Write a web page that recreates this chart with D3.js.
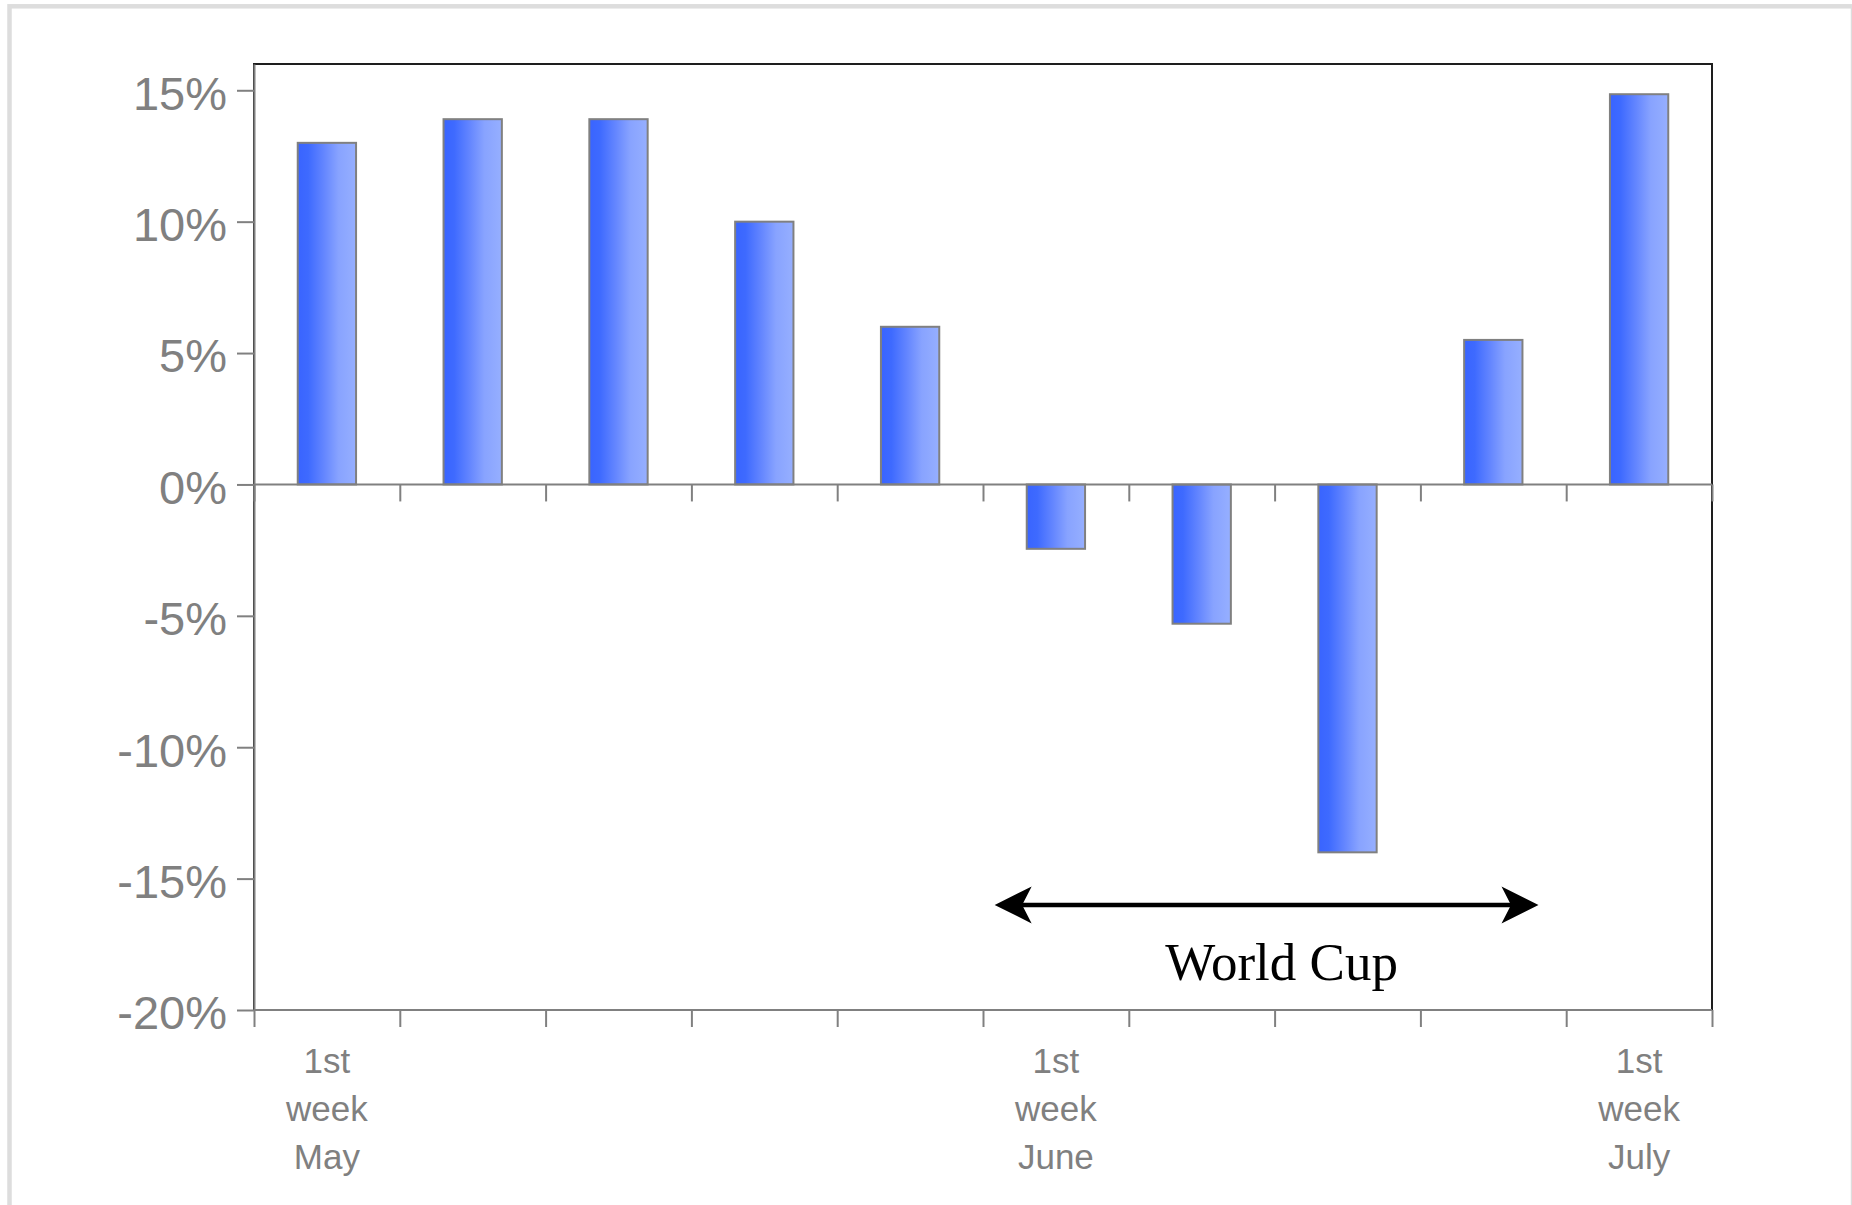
<!DOCTYPE html>
<html>
<head>
<meta charset="utf-8">
<script src="https://cdn.jsdelivr.net/npm/d3@7"></script>
<style>
  html, body { margin: 0; padding: 0; background: #ffffff; }
  svg { display: block; }
</style>
</head>
<body>
<script>
// ---------- data ----------
const weeks = ["1st week May", "2nd week May", "3rd week May", "4th week May", "5th week May",
               "1st week June", "2nd week June", "3rd week June", "4th week June", "1st week July"];
const values = [13.0, 13.9, 13.9, 10.0, 6.0, -2.45, -5.3, -14.0, 5.5, 14.85];
const tickLabels = [["1st", "week", "May"], null, null, null, null,
                    ["1st", "week", "June"], null, null, null, ["1st", "week", "July"]];
const yTicks = [-20, -15, -10, -5, 0, 5, 10, 15];
const yDomain = [-20, 16];
const annotationText = "World Cup";
const worldCupSpan = [5.08, 8.81];   // in week-step units
const arrowLevel = -16.0;            // %
const annotationLevel = -18.85;      // %

// ---------- layout ----------
const W = 1852, H = 1205;
const plot = { left: 254, right: 1712, top: 64, bottom: 1010 };

const svg = d3.select("body").append("svg").attr("width", W).attr("height", H);

svg.append("rect").attr("x", 0).attr("y", 0).attr("width", W).attr("height", H).attr("fill", "#fff");

// outer light frame
svg.append("rect")
  .attr("x", 9.5).attr("y", 6.3).attr("width", 1843.5).attr("height", 1230)
  .attr("fill", "none").attr("stroke", "#dddddd").attr("stroke-width", 4.5);

const x = d3.scaleBand().domain(weeks).range([plot.left, plot.right])
  .paddingInner(0.6).paddingOuter(0.3);
const xStep = d3.scaleLinear().domain([0, weeks.length]).range([plot.left, plot.right]);
const y = d3.scaleLinear().domain(yDomain).range([plot.bottom, plot.top]);

// gradient
const defs = svg.append("defs");
const grad = defs.append("linearGradient").attr("id", "barGrad")
  .attr("x1", "0%").attr("x2", "100%").attr("y1", "0%").attr("y2", "0%");
[[0, "#3964ff"], [0.18, "#3e6aff"], [0.45, "#6486ff"], [0.7, "#88a3ff"], [1, "#96afff"]]
  .forEach(([o, c]) => grad.append("stop").attr("offset", o).attr("stop-color", c));

// plot frame
svg.append("rect")
  .attr("x", plot.left).attr("y", plot.top)
  .attr("width", plot.right - plot.left).attr("height", plot.bottom - plot.top)
  .attr("fill", "none").attr("stroke", "#1e1e1e").attr("stroke-width", 2);

const gray = "#808080";

// bars
svg.append("g").selectAll("rect").data(values).join("rect")
  .attr("x", (d, i) => x(weeks[i]))
  .attr("width", x.bandwidth())
  .attr("y", d => y(Math.max(0, d)))
  .attr("height", d => Math.abs(y(d) - y(0)))
  .attr("fill", "url(#barGrad)")
  .attr("stroke", gray).attr("stroke-width", 2);

// y axis
const yAxis = svg.append("g").attr("transform", `translate(${plot.left},0)`)
  .call(d3.axisLeft(y).tickValues(yTicks).tickSizeInner(17).tickSizeOuter(0).tickPadding(10)
        .tickFormat(d => d + "%"));
yAxis.select(".domain").attr("stroke", gray).attr("stroke-width", 2);
yAxis.selectAll(".tick line").attr("stroke", gray).attr("stroke-width", 2);
yAxis.selectAll(".tick text")
  .attr("fill", gray).attr("font-family", "'Liberation Sans', Arial, sans-serif")
  .attr("font-size", 47).attr("dy", "0.4em");

// zero line axis with ticks
const zeroAxis = svg.append("g").attr("transform", `translate(0,${y(0)})`)
  .call(d3.axisBottom(xStep).ticks(weeks.length).tickSize(17).tickFormat(""));
zeroAxis.select(".domain").attr("stroke", gray).attr("stroke-width", 2).attr("d", `M${plot.left},0H${plot.right}`);
zeroAxis.selectAll(".tick line").attr("stroke", gray).attr("stroke-width", 2);

// bottom axis with ticks
const bottomAxis = svg.append("g").attr("transform", `translate(0,${plot.bottom})`)
  .call(d3.axisBottom(xStep).ticks(weeks.length).tickSize(17).tickFormat(""));
bottomAxis.select(".domain").attr("stroke", gray).attr("stroke-width", 2).attr("d", `M${plot.left},0H${plot.right}`);
bottomAxis.selectAll(".tick line").attr("stroke", gray).attr("stroke-width", 2);

// category labels
const lab = svg.append("g")
  .attr("font-family", "'Liberation Sans', Arial, sans-serif")
  .attr("font-size", 35).attr("fill", gray).attr("text-anchor", "middle");
weeks.forEach((w, i) => {
  if (!tickLabels[i]) return;
  const t = lab.append("text").attr("x", x(w) + x.bandwidth() / 2).attr("y", plot.bottom + 63);
  tickLabels[i].forEach((line, j) => {
    t.append("tspan").attr("x", x(w) + x.bandwidth() / 2).attr("dy", j === 0 ? 0 : 48).text(line);
  });
});

// World Cup arrow
const ax1 = xStep(worldCupSpan[0]), ax2 = xStep(worldCupSpan[1]), ay = y(arrowLevel);
svg.append("line").attr("x1", ax1 + 20).attr("x2", ax2 - 20).attr("y1", ay).attr("y2", ay)
  .attr("stroke", "#000").attr("stroke-width", 4.5);
const head = (tip, dir) => {
  const back = tip + dir * 37, notch = tip + dir * 27.5;
  return `M${tip},${ay}L${back},${ay - 18.5}L${notch},${ay}L${back},${ay + 18.5}Z`;
};
svg.append("path").attr("d", head(ax1, 1)).attr("fill", "#000");
svg.append("path").attr("d", head(ax2, -1)).attr("fill", "#000");

svg.append("text")
  .attr("x", (ax1 + ax2) / 2 + 15).attr("y", y(annotationLevel))
  .attr("text-anchor", "middle")
  .attr("font-family", "'Liberation Serif', 'Times New Roman', serif")
  .attr("font-size", 53).attr("fill", "#000")
  .text(annotationText);
</script>
</body>
</html>
